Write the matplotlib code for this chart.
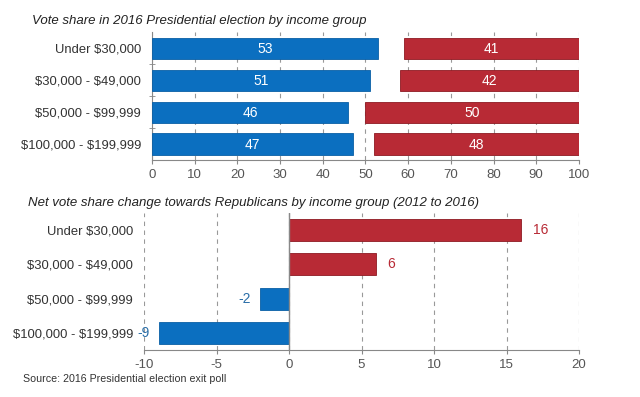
import matplotlib.pyplot as plt
import matplotlib

plt.rcParams['font.family'] = ['Liberation Sans', 'DejaVu Sans']
plt.rcParams['text.parse_math'] = False
plt.rcParams['axes.unicode_minus'] = False

groups = ['Under $30,000', '$30,000 - $49,000', '$50,000 - $99,999', '$100,000 - $199,999']
dem_share = [53, 51, 46, 47]
rep_share = [41, 42, 50, 48]
net_change = [16, 6, -2, -9]

blue = '#0b6fc0'
red = '#b82a35'
grid_col = '#999999'
spine_col = '#888888'
txt_col = '#333333'

fig = plt.figure(figsize=(6.4, 3.97), dpi=100)

# top panel: vote share
ax1 = fig.add_axes([0.2375, 0.597, 0.667, 0.322])
ypos = list(range(len(groups)))
ax1.barh(ypos, dem_share, height=0.66, color=blue, edgecolor='#0a5fa5', linewidth=0.6, zorder=3)
rep_left = [100 - r for r in rep_share]
ax1.barh(ypos, rep_share, left=rep_left, height=0.66, color=red, edgecolor='#8e1a22', linewidth=0.6, zorder=3)
for y, d, l, r in zip(ypos, dem_share, rep_left, rep_share):
    ax1.text(d / 2, y + 0.04, str(d), color='white', ha='center', va='center', fontsize=10, zorder=4)
    ax1.text(l + r / 2, y + 0.04, str(r), color='white', ha='center', va='center', fontsize=10, zorder=4)
ax1.set_xlim(0, 100)
ax1.set_ylim(3.5, -0.5)
ax1.set_xticks(range(0, 101, 10))
ax1.set_yticks(ypos)
ax1.set_yticklabels(groups)
ax1.set_yticks([0.5, 1.5, 2.5], minor=True)
ax1.tick_params(axis='y', which='major', length=0, pad=8, labelsize=9.4, labelcolor=txt_col)
ax1.tick_params(axis='y', which='minor', length=4, direction='inout', color=spine_col)
ax1.tick_params(axis='x', length=3, color=spine_col, labelsize=9.5, labelcolor='#555555')
ax1.grid(axis='x', linestyle=(0, (4, 4)), color=grid_col, linewidth=0.8, zorder=0)
for s in ['top', 'right']:
    ax1.spines[s].set_visible(False)
for s in ['left', 'bottom']:
    ax1.spines[s].set_color(spine_col)
fig.text(0.05, 0.947, 'Vote share in 2016 Presidential election by income group',
         style='italic', fontsize=9.5, color='#222222', va='center')

# bottom panel: net change
ax2 = fig.add_axes([0.225, 0.1184, 0.6797, 0.345])
colors = [red if v > 0 else blue for v in net_change]
edges = ['#8e1a22' if v > 0 else '#0a5fa5' for v in net_change]
ax2.barh(ypos, net_change, height=0.64, color=colors, edgecolor=edges, linewidth=0.6, zorder=3)
for y, v, c in zip(ypos, net_change, colors):
    if v > 0:
        ax2.text(v + 0.8, y, str(v), color=c, ha='left', va='center', fontsize=10, zorder=4)
    else:
        ax2.text(v - 0.6, y, str(v), color='#2a6ea8', ha='right', va='center', fontsize=10,
                 zorder=4, clip_on=False)
ax2.set_xlim(-10, 20)
ax2.set_ylim(3.5, -0.5)
ax2.set_xticks(range(-10, 21, 5))
ax2.set_yticks(ypos)
ax2.set_yticklabels(groups)
ax2.tick_params(axis='y', length=0, pad=8, labelsize=9.4, labelcolor=txt_col)
ax2.tick_params(axis='x', length=3, color=spine_col, labelsize=9.5, labelcolor='#555555')
ax2.grid(axis='x', linestyle=(0, (4, 4)), color=grid_col, linewidth=0.8, zorder=0)
ax2.axvline(0, color=spine_col, linewidth=1, zorder=4)
for s in ['top', 'right', 'left']:
    ax2.spines[s].set_visible(False)
ax2.spines['bottom'].set_color(spine_col)
fig.text(0.044, 0.489, 'Net vote share change towards Republicans by income group (2012 to 2016)',
         style='italic', fontsize=9.5, color='#222222', va='center')

fig.text(0.036, 0.046, 'Source: 2016 Presidential election exit poll', fontsize=7.7, color='#333333', va='center')

plt.savefig('out.png', dpi=100)
